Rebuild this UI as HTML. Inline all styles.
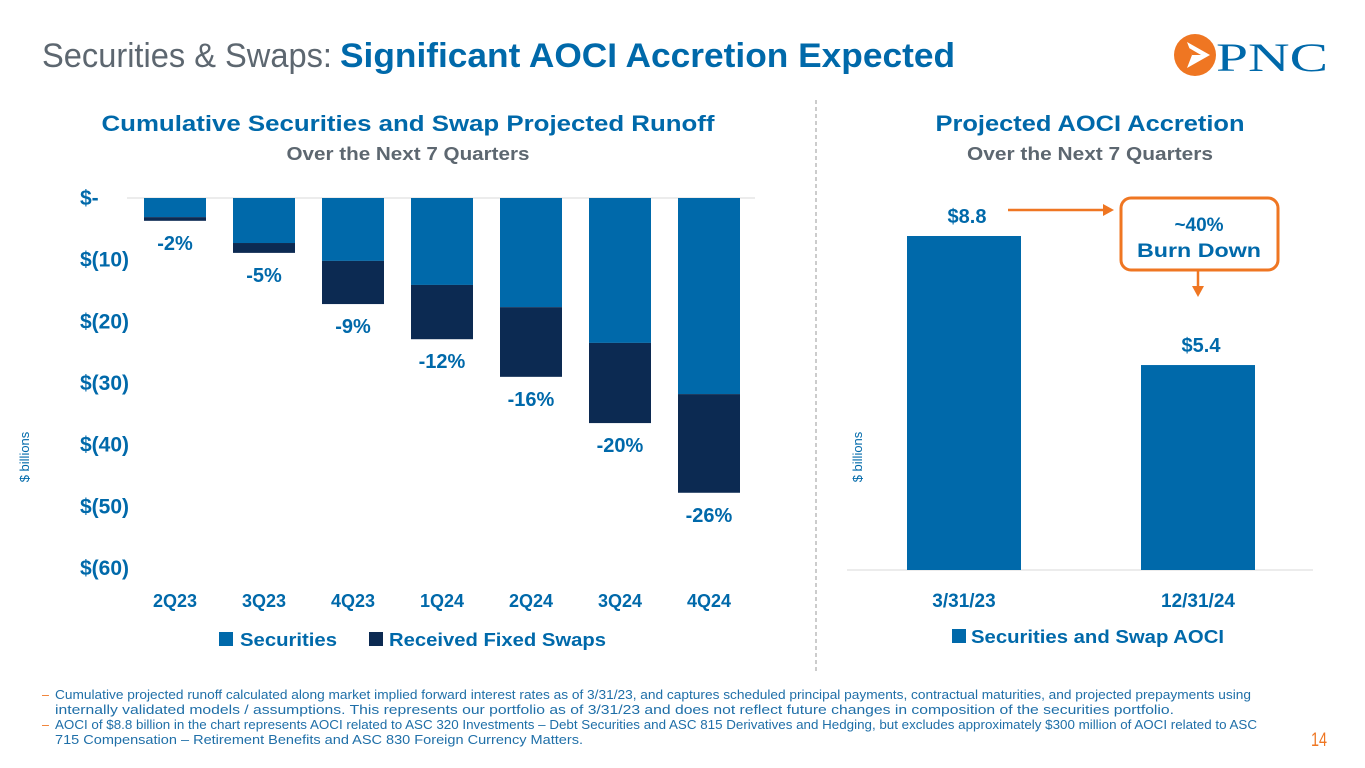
<!DOCTYPE html>
<html><head><meta charset="utf-8"><style>
html,body{margin:0;padding:0;background:#fff}
svg{display:block;font-family:"Liberation Sans",sans-serif}
</style></head><body>
<svg id="s" width="1365" height="768" viewBox="0 0 1365 768">
<text x="42" y="67" font-size="34" fill="#5d6770" textLength="290" lengthAdjust="spacingAndGlyphs">Securities &amp; Swaps:</text>
<text x="340" y="67" font-size="34" font-weight="bold" fill="#0069aa" textLength="615" lengthAdjust="spacingAndGlyphs">Significant AOCI Accretion Expected</text>
<g>
<circle cx="1195" cy="55" r="21" fill="#ef7622"/>
<path d="M1187 42 L1210 55 L1187 68 L1192 55 Z" fill="#fff"/>
<path d="M1192 55 L1201 55 L1189 48 Z" fill="#ef7622"/>
<text x="1216" y="71" font-size="40" font-family="Liberation Serif,serif" fill="#0069aa" textLength="112" lengthAdjust="spacingAndGlyphs">PNC</text>
</g>
<text x="408" y="131" text-anchor="middle" font-size="22" font-weight="bold" fill="#0069aa" textLength="613" lengthAdjust="spacingAndGlyphs">Cumulative Securities and Swap Projected Runoff</text>
<text x="408" y="160" text-anchor="middle" font-size="18" font-weight="bold" fill="#5d6770" textLength="243" lengthAdjust="spacingAndGlyphs">Over the Next 7 Quarters</text>
<text x="1090" y="131" text-anchor="middle" font-size="22" font-weight="bold" fill="#0069aa" textLength="309" lengthAdjust="spacingAndGlyphs">Projected AOCI Accretion</text>
<text x="1090" y="160" text-anchor="middle" font-size="18" font-weight="bold" fill="#5d6770" textLength="246" lengthAdjust="spacingAndGlyphs">Over the Next 7 Quarters</text>
<line x1="816" y1="100" x2="816" y2="672" stroke="#999" stroke-dasharray="4,3"/>
<line x1="127" y1="198" x2="755" y2="198" stroke="#d9d9d9"/>
<line x1="847" y1="570" x2="1313" y2="570" stroke="#d9d9d9"/>
<text transform="translate(29,457) rotate(-90)" text-anchor="middle" font-size="13" fill="#0069aa">$ billions</text>
<text transform="translate(862,457) rotate(-90)" text-anchor="middle" font-size="13" fill="#0069aa">$ billions</text>
<g id="left"></g><g id="right"></g>
<g>
<rect x="219" y="632" width="14" height="14" fill="#0069aa"/>
<text x="240" y="646" font-size="18" font-weight="bold" fill="#0069aa" textLength="97" lengthAdjust="spacingAndGlyphs">Securities</text>
<rect x="369" y="632" width="14" height="14" fill="#0c2a52"/>
<text x="389" y="646" font-size="18" font-weight="bold" fill="#0069aa" textLength="217" lengthAdjust="spacingAndGlyphs">Received Fixed Swaps</text>
</g>
<g>
<rect x="952" y="629" width="14" height="14" fill="#0069aa"/>
<text x="971" y="643" font-size="18" font-weight="bold" fill="#0069aa" textLength="253" lengthAdjust="spacingAndGlyphs">Securities and Swap AOCI</text>
</g>
<g>
<rect x="1121" y="198" width="157" height="72" rx="10" fill="#fff" stroke="#ef7622" stroke-width="3"/>
<text x="1199" y="231" text-anchor="middle" font-size="19" font-weight="bold" fill="#0069aa">~40%</text>
<text x="1199" y="257" text-anchor="middle" font-size="19" font-weight="bold" fill="#0069aa" textLength="124" lengthAdjust="spacingAndGlyphs">Burn Down</text>
<line x1="1008" y1="210" x2="1104" y2="210" stroke="#ef7622" stroke-width="2.5"/>
<path d="M1114 210 L1103 204 L1103 216 Z" fill="#ef7622"/>
<line x1="1198" y1="270" x2="1198" y2="287" stroke="#ef7622" stroke-width="2.5"/>
<path d="M1198 297 L1192 286 L1204 286 Z" fill="#ef7622"/>
</g>
<g fill="#1f6fa8" font-size="12.5">
<text x="42" y="699" fill="#ef7622">–</text>
<text x="55" y="699" textLength="1196" lengthAdjust="spacingAndGlyphs">Cumulative projected runoff calculated along market implied forward interest rates as of 3/31/23, and captures scheduled principal payments, contractual maturities, and projected prepayments using</text>
<text x="55" y="714" textLength="1119" lengthAdjust="spacingAndGlyphs">internally validated models / assumptions. This represents our portfolio as of 3/31/23  and does not reflect future changes in composition of the securities portfolio.</text>
<text x="42" y="729" fill="#ef7622">–</text>
<text x="55" y="729" textLength="1202" lengthAdjust="spacingAndGlyphs">AOCI of $8.8 billion in the chart represents AOCI related to ASC 320 Investments – Debt Securities and ASC 815 Derivatives and Hedging, but excludes approximately $300 million of AOCI related to ASC</text>
<text x="55" y="744" textLength="528" lengthAdjust="spacingAndGlyphs">715 Compensation – Retirement Benefits and ASC 830 Foreign Currency Matters.</text>
</g>
<text x="1311" y="746" font-size="19" fill="#ef7622" textLength="16" lengthAdjust="spacingAndGlyphs">14</text>
</svg>
<script>
const quarters=["2Q23","3Q23","4Q23","1Q24","2Q24","3Q24","4Q24"];
const securities=[3.1,7.3,10.2,14.1,17.7,23.5,31.8];
const swaps=[0.6,1.6,7.0,8.8,11.3,13.0,16.0];
const pctLabels=["-2%","-5%","-9%","-12%","-16%","-20%","-26%"];
const yTicks=[0,-10,-20,-30,-40,-50,-60];
const yTickLabels=["$-","$(10)","$(20)","$(30)","$(40)","$(50)","$(60)"];
const aociDates=["3/31/23","12/31/24"];
const aociValues=[8.8,5.4];
const aociLabels=["$8.8","$5.4"];

const NS="http://www.w3.org/2000/svg";
function mk(tag,attrs,parent,txt){const e=document.createElementNS(NS,tag);for(const k in attrs)e.setAttribute(k,attrs[k]);if(txt!==undefined)e.textContent=txt;parent.appendChild(e);return e;}
const L=document.getElementById('left'),R=document.getElementById('right');
function yLeft(v){return 198+(-v)*370/60;}
const xL=i=>175+i*89;
yTicks.forEach((t,i)=>{
  const e=mk('text',{x:80,y:yLeft(t)+7,'font-size':21,'font-weight':'bold',fill:'#0069aa'},L,yTickLabels[i]);
  
  
});
quarters.forEach((q,i)=>{
  const x=xL(i)-31,w=62;
  const s=mk('rect',{x:x,y:yLeft(0),width:w,height:yLeft(-securities[i])-yLeft(0),fill:'#0069aa'},L);
  
  
  const sw=mk('rect',{x:x,y:yLeft(-securities[i]),width:w,height:yLeft(-securities[i]-swaps[i])-yLeft(-securities[i]),fill:'#0c2a52'},L);
  
  
  const p=mk('text',{x:xL(i),y:yLeft(-securities[i]-swaps[i])+29,'text-anchor':'middle','font-size':20,'font-weight':'bold',fill:'#0069aa'},L,pctLabels[i]);
  
  
  const xl=mk('text',{x:xL(i),y:607,'text-anchor':'middle','font-size':18,'font-weight':'bold',fill:'#0069aa'},L,q);
  
  
});
function yRight(v){return 570-v*334/8.8;}
const xR=i=>964+i*234;
aociDates.forEach((d,i)=>{
  const b=mk('rect',{x:xR(i)-57,y:yRight(aociValues[i]),width:114,height:570-yRight(aociValues[i]),fill:'#0069aa'},R);
  
  
  const v=mk('text',{x:xR(i)+3,y:yRight(aociValues[i])-13,'text-anchor':'middle','font-size':20,'font-weight':'bold',fill:'#0069aa'},R,aociLabels[i]);
  
  
  const xl=mk('text',{x:xR(i),y:607,'text-anchor':'middle','font-size':19,'font-weight':'bold',fill:'#0069aa'},R,d);
  
  
});
</script>
</body></html>
